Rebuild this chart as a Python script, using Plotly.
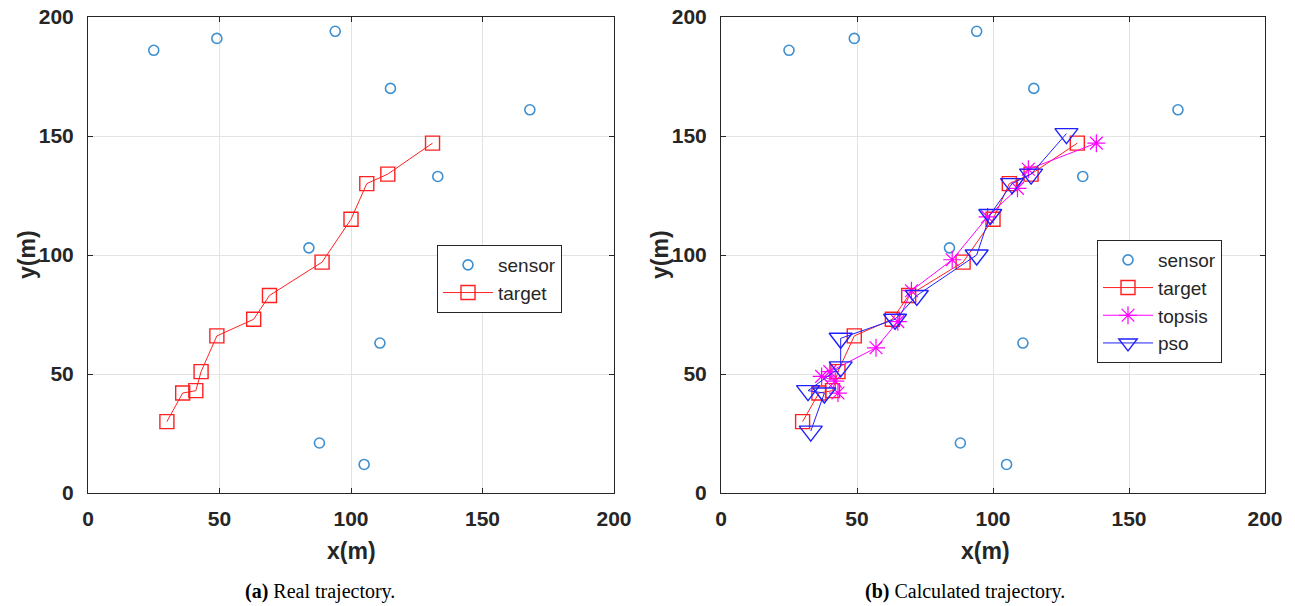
import plotly.graph_objects as go

# ---- data ----
sensor_x = [25, 49, 94, 115, 168, 133, 84, 111, 88, 105]
sensor_y = [186, 191, 194, 170, 161, 133, 103, 63, 21, 12]

target_x = [30, 36, 41, 43, 49, 63, 69, 89, 100, 106, 114, 131]
target_y = [30, 42, 43, 51, 66, 73, 83, 97, 115, 130, 134, 147]

topsis_x = [43, 37, 42, 40, 57, 65, 70, 85, 98, 109, 113, 138]
topsis_y = [42, 49, 47, 51, 61, 72, 85, 98, 116, 128, 136, 147]

pso_x = [33, 38, 32, 44, 44, 64, 72, 94, 99, 107, 114, 127]
pso_y = [26, 42, 43, 53, 65, 73, 83, 100, 117, 130, 134, 151]

tick_vals = [0, 50, 100, 150, 200]
tick_text = ["0", "50", "100", "150", "200"]

W, H = 1295, 606
SENSOR_C = "#3f90d0"
TICKFONT = dict(family="Liberation Sans, Arial, sans-serif", size=21, color="#262626")

fig = go.Figure()

def sensor_trace(xa, ya, leg):
    return go.Scatter(x=sensor_x, y=sensor_y, mode="markers", name="sensor",
                      xaxis=xa, yaxis=ya, legend=leg,
                      marker=dict(symbol="circle-open", size=10, color=SENSOR_C,
                                  line=dict(width=1.6, color=SENSOR_C)))

def target_trace(xa, ya, leg):
    return go.Scatter(x=target_x, y=target_y, mode="lines+markers", name="target",
                      xaxis=xa, yaxis=ya, legend=leg,
                      line=dict(color="#ff2020", width=1),
                      marker=dict(symbol="square-open", size=14, color="#ff2020",
                                  line=dict(width=1.4, color="#ff2020")))

# left panel
fig.add_trace(sensor_trace("x", "y", "legend"))
fig.add_trace(target_trace("x", "y", "legend"))

# right panel
fig.add_trace(sensor_trace("x2", "y2", "legend2"))
fig.add_trace(target_trace("x2", "y2", "legend2"))
fig.add_trace(go.Scatter(x=topsis_x, y=topsis_y, mode="lines+markers", name="topsis",
                         xaxis="x2", yaxis="y2", legend="legend2",
                         line=dict(color="#ff00ff", width=1),
                         marker=dict(symbol="asterisk-open", size=15, color="#ff00ff",
                                     line=dict(width=1.2, color="#ff00ff"))))
fig.add_trace(go.Scatter(x=pso_x, y=pso_y, mode="lines+markers", name="pso",
                         xaxis="x2", yaxis="y2", legend="legend2",
                         line=dict(color="#2020ff", width=1),
                         marker=dict(symbol="triangle-down-open", size=20, color="#2020ff",
                                     line=dict(width=1.4, color="#2020ff"))))

ydom = [(606 - 493) / H, (606 - 17) / H]
axis_common = dict(range=[0, 200], tickvals=tick_vals, ticktext=tick_text,
                   showgrid=True, gridcolor="#e3e3e3", gridwidth=1,
                   showline=True, linecolor="#262626", linewidth=1, mirror="ticks",
                   ticks="inside", ticklen=5, tickcolor="#262626",
                   tickfont=dict(**TICKFONT, weight="bold"),
                   zeroline=False, fixedrange=True, automargin=False)

legend_font = dict(family="Liberation Sans, Arial, sans-serif", size=19, color="#262626")

fig.update_layout(
    width=W, height=H,
    margin=dict(l=0, r=0, t=0, b=0, autoexpand=False),
    paper_bgcolor="white", plot_bgcolor="white",
    xaxis=dict(domain=[88 / W, 614 / W], anchor="y", ticklabelstandoff=7, **axis_common),
    yaxis=dict(domain=ydom, anchor="x", ticklabelstandoff=9, **axis_common),
    xaxis2=dict(domain=[721 / W, 1265 / W], anchor="y2", ticklabelstandoff=7, **axis_common),
    yaxis2=dict(domain=ydom, anchor="x2", ticklabelstandoff=9, **axis_common),
    legend=dict(x=437 / W, y=(606 - 245) / H, xanchor="left", yanchor="top",
                bgcolor="white", bordercolor="#262626", borderwidth=1,
                font=legend_font, tracegroupgap=0, itemwidth=50),
    legend2=dict(x=1097 / W, y=(606 - 240) / H, xanchor="left", yanchor="top",
                 bgcolor="white", bordercolor="#262626", borderwidth=1,
                 font=legend_font, tracegroupgap=0, itemwidth=50),
    showlegend=True,
)

title_font = dict(family="Liberation Sans, Arial, sans-serif", size=23, color="#262626", weight="bold")
cap_font = dict(family="Liberation Serif, Times New Roman, serif", size=20, color="black")

annots = [
    dict(x=351 / W, y=1 - 551 / H, text="x(m)", font=title_font, textangle=0),
    dict(x=985 / W, y=1 - 551 / H, text="x(m)", font=title_font, textangle=0),
    dict(x=27 / W, y=1 - 255 / H, text="y(m)", font=title_font, textangle=-90),
    dict(x=660 / W, y=1 - 255 / H, text="y(m)", font=title_font, textangle=-90),
    dict(x=320 / W, y=1 - 591 / H, text="<b>(a)</b> Real trajectory.", font=cap_font, textangle=0),
    dict(x=965 / W, y=1 - 591 / H, text="<b>(b)</b> Calculated trajectory.", font=cap_font, textangle=0),
]
for a in annots:
    fig.add_annotation(xref="paper", yref="paper", xanchor="center", yanchor="middle",
                       showarrow=False, **a)

fig.write_html("out.html")
